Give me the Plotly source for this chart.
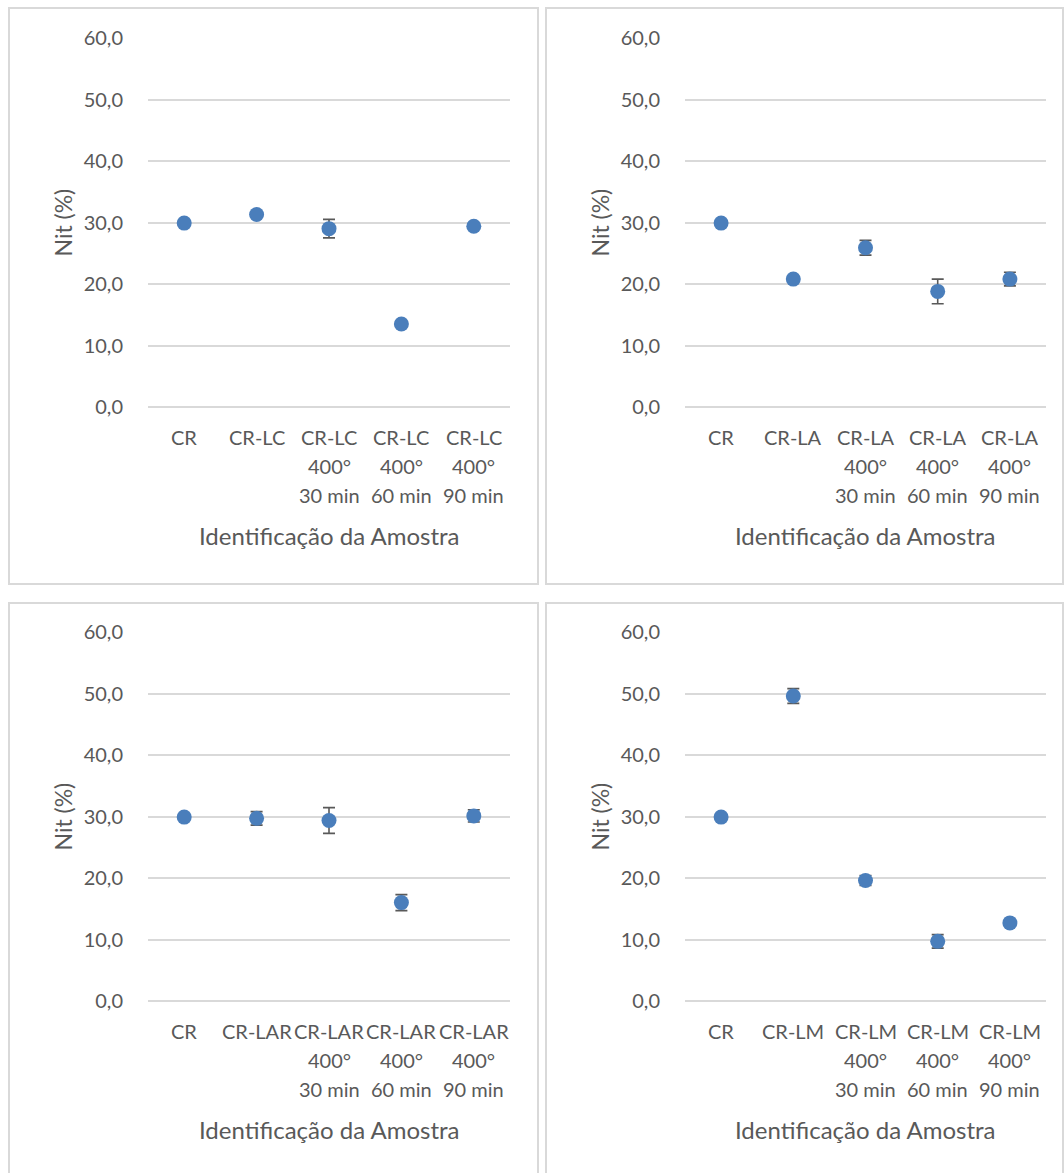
import plotly.graph_objects as go

# Sample identifiers (line breaks inside each label are "\n")
labels_lc = ["CR", "CR-LC", "CR-LC\n400°\n30 min", "CR-LC\n400°\n60 min", "CR-LC\n400°\n90 min"]
labels_la = ["CR", "CR-LA", "CR-LA\n400°\n30 min", "CR-LA\n400°\n60 min", "CR-LA\n400°\n90 min"]
labels_lar = ["CR", "CR-LAR", "CR-LAR\n400°\n30 min", "CR-LAR\n400°\n60 min", "CR-LAR\n400°\n90 min"]
labels_lm = ["CR", "CR-LM", "CR-LM\n400°\n30 min", "CR-LM\n400°\n60 min", "CR-LM\n400°\n90 min"]

# Nitrogen content (%) and its deviation
nit_lc = [29.9, 31.3, 29.0, 13.5, 29.4]
err_lc = [0.0, 0.0, 1.5, 0.0, 0.0]

nit_la = [29.9, 20.8, 25.9, 18.8, 20.8]
err_la = [0.0, 0.0, 1.2, 2.0, 1.1]

nit_lar = [29.9, 29.7, 29.35, 16.0, 30.1]
err_lar = [0.0, 1.1, 2.1, 1.3, 1.0]

nit_lm = [29.9, 49.6, 19.6, 9.7, 12.7]
err_lm = [0.0, 1.2, 0.8, 1.1, 0.0]

y_ticks = [0, 10, 20, 30, 40, 50, 60]
x_title = "Identificação da Amostra"
y_title = "Nit (%)"

W, H = 1064, 1173
FONT = "Lato"
TEXT = "#595959"
GRID = "#D9D9D9"
BLUE = "#4A7EBB"


def fx(p):
    return p / W


def fy(p):
    return 1 - p / H


panels = [
    dict(labels=labels_lc, values=nit_lc, errors=err_lc, box=(9, 8, 538, 584), plot=(148, 38, 510, 407)),
    dict(labels=labels_la, values=nit_la, errors=err_la, box=(546, 8, 1063, 584), plot=(685, 38, 1046, 407)),
    dict(labels=labels_lar, values=nit_lar, errors=err_lar, box=(9, 603, 538, 1175), plot=(148, 632, 510, 1001)),
    dict(labels=labels_lm, values=nit_lm, errors=err_lm, box=(546, 603, 1063, 1175), plot=(685, 632, 1046, 1001)),
]

fig = go.Figure()
layout = {}
annotations = []
shapes = []

for i, p in enumerate(panels, start=1):
    xa = "x" if i == 1 else f"x{i}"
    ya = "y" if i == 1 else f"y{i}"
    cats = [lab.replace("\n", " ") for lab in p["labels"]]
    fig.add_trace(go.Scatter(
        x=cats, y=p["values"], xaxis=xa, yaxis=ya, mode="markers",
        marker=dict(size=15, color=BLUE, line=dict(width=0)),
        error_y=dict(type="data", array=p["errors"], visible=True,
                     color=TEXT, thickness=1.6, width=6),
        showlegend=False, hoverinfo="x+y",
    ))
    x0, y0, x1, y1 = p["plot"]
    layout["xaxis" if i == 1 else f"xaxis{i}"] = dict(
        domain=[fx(x0), fx(x1)], anchor=ya, type="category",
        categoryorder="array", categoryarray=cats, range=[-0.5, 4.5],
        showticklabels=False, showgrid=False, zeroline=False,
        showline=False, ticks="", fixedrange=True, automargin=False,
    )
    layout["yaxis" if i == 1 else f"yaxis{i}"] = dict(
        domain=[fy(y1), fy(y0)], anchor=xa, range=[0, 60],
        tickvals=y_ticks, tickformat=".1f", showgrid=True,
        gridcolor=GRID, gridwidth=1.5, zeroline=True, zerolinecolor=GRID,
        zerolinewidth=1.5, showline=False, ticks="", ticklabelstandoff=24,
        tickfont=dict(family=FONT, size=20, color=TEXT), fixedrange=True,
        automargin=False,
    )
    # category labels, one line at a time below the axis
    for cat, lab in zip(cats, p["labels"]):
        for k, line in enumerate(lab.split("\n")):
            annotations.append(dict(
                x=cat, y=0, xref=xa, yref=ya, text=line, showarrow=False,
                xanchor="center", yanchor="middle", yshift=-30 - 29 * k,
                font=dict(family=FONT, size=20, color=TEXT),
            ))
    annotations.append(dict(
        x=2, y=0, xref=xa, yref=ya, text=x_title, showarrow=False,
        xanchor="center", yanchor="middle", yshift=-128,
        font=dict(family=FONT, size=24, color=TEXT),
    ))
    bx0, by0, bx1, by1 = p["box"]
    annotations.append(dict(
        x=fx(bx0 + 53), y=fy((y0 + y1) / 2), xref="paper", yref="paper",
        text=y_title, showarrow=False, textangle=-90,
        xanchor="center", yanchor="middle",
        font=dict(family=FONT, size=23, color=TEXT),
    ))
    shapes.append(dict(
        type="rect", xref="paper", yref="paper",
        x0=fx(bx0), x1=fx(bx1), y0=fy(by1), y1=fy(by0),
        line=dict(color=GRID, width=2), fillcolor="rgba(0,0,0,0)", layer="below",
    ))

fig.update_layout(
    width=W, height=H,
    margin=dict(l=0, r=0, t=0, b=0, pad=0, autoexpand=False),
    paper_bgcolor="white", plot_bgcolor="white",
    separators=", ", annotations=annotations, shapes=shapes,
    font=dict(family=FONT, color=TEXT),
    **layout,
)

fig.write_html("out.html")
